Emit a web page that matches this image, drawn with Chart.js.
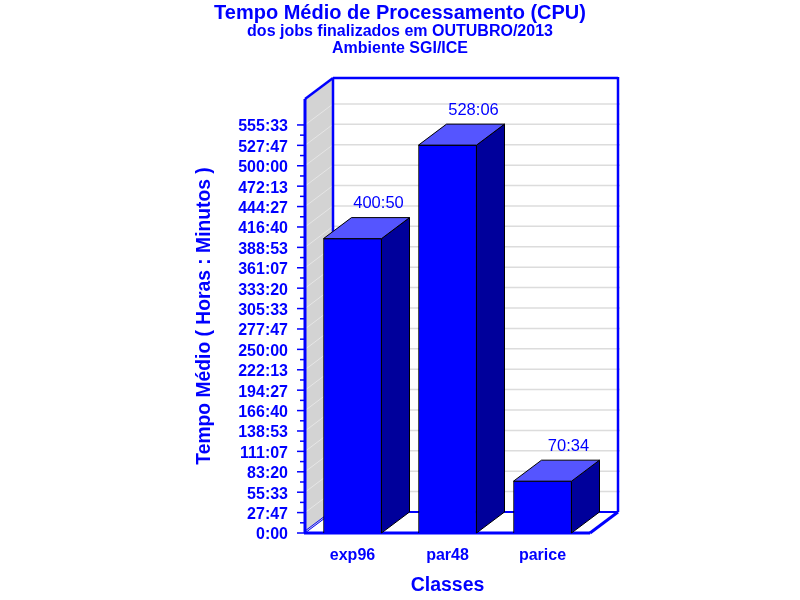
<!DOCTYPE html>
<html>
<head>
<meta charset="utf-8">
<title>Tempo Médio de Processamento</title>
<script src="https://cdn.jsdelivr.net/npm/chart.js@4"></script>
<style>
  html, body { margin: 0; padding: 0; background: #fff; }
  canvas { display: block; }
</style>
</head>
<body>
<canvas id="grafico" width="800" height="600"></canvas>
<script>
const classes = ['exp96', 'par48', 'parice'];
// tempos em minutos (400:50, 528:06, 70:34)
const tempos = [24050, 31686, 4234];
const rotulosY = ['0:00', '27:47', '55:33', '83:20', '111:07', '138:53', '166:40', '194:27',
  '222:13', '250:00', '277:47', '305:33', '333:20', '361:07', '388:53', '416:40',
  '444:27', '472:13', '500:00', '527:47', '555:33'];
const maxY = 35460;

const AZUL = '#0000ff';
const DX = 28, DY = -21;
const fonte = 'Arial, "Liberation Sans", sans-serif';

function paraMinutos(r) {
  const p = r.split(':');
  return parseInt(p[0]) * 60 + parseInt(p[1]);
}
function paraHoras(m) {
  const min = m % 60;
  return Math.floor(m / 60) + ':' + (min < 10 ? '0' : '') + min;
}
const valoresY = rotulosY.map(paraMinutos);

function poligono(ctx, pts, cor, borda) {
  ctx.beginPath();
  pts.forEach((p, i) => i ? ctx.lineTo(p[0], p[1]) : ctx.moveTo(p[0], p[1]));
  ctx.closePath();
  ctx.fillStyle = cor;
  ctx.fill();
  if (borda) {
    ctx.strokeStyle = borda;
    ctx.lineWidth = 1;
    ctx.stroke();
  }
}
function linha(ctx, x1, y1, x2, y2, cor, w) {
  ctx.beginPath();
  ctx.moveTo(x1, y1);
  ctx.lineTo(x2, y2);
  ctx.strokeStyle = cor;
  ctx.lineWidth = w;
  ctx.stroke();
}

// caixa 3D: parede, piso, grades e marcas do eixo, tudo a partir das escalas
const caixa3d = {
  id: 'caixa3d',
  beforeDatasetsDraw(chart) {
    const {ctx, chartArea: a, scales: {y}} = chart;
    ctx.save();
    poligono(ctx, [[a.left, a.bottom], [a.left + DX, a.bottom + DY], [a.left + DX, a.top + DY], [a.left, a.top]], '#d3d3d3');
    valoresY.forEach((v, i) => {
      const py = y.getPixelForValue(v);
      if (i > 0) {
        linha(ctx, a.left, py, a.left + DX, py + DY, '#e6e6e6', 1);
        linha(ctx, a.left + DX, py + DY, a.right + DX + 2, py + DY, '#dcdcdc', 1.5);
      }
      linha(ctx, a.left - 8, py, a.left, py, AZUL, 1.5);
      if (i < valoresY.length - 1) {
        const meio = y.getPixelForValue((v + valoresY[i + 1]) / 2);
        linha(ctx, a.left - 5, meio, a.left, meio, AZUL, 1.5);
      }
    });
    linha(ctx, a.left, a.bottom - 2, a.left + DX, a.bottom + DY - 2, AZUL, 1);
    linha(ctx, a.left, a.bottom, a.left + DX, a.bottom + DY, AZUL, 1);
    linha(ctx, a.left + DX, a.bottom + DY, a.right + DX, a.bottom + DY, AZUL, 2);
    linha(ctx, a.right, a.bottom, a.right + DX, a.bottom + DY, AZUL, 3);
    linha(ctx, a.left + DX, a.top + DY, a.left + DX, a.bottom + DY, AZUL, 2.5);
    linha(ctx, a.right + DX, a.top + DY - 1, a.right + DX, a.bottom + DY, AZUL, 2.5);
    linha(ctx, a.left + DX, a.top + DY, a.right + DX, a.top + DY, AZUL, 2.5);
    linha(ctx, a.left, a.top, a.left + DX, a.top + DY, AZUL, 2.5);
    linha(ctx, a.left, a.top, a.left, a.bottom, AZUL, 3);
    linha(ctx, a.left - 1, a.bottom, a.right, a.bottom, AZUL, 3);
    ctx.restore();
  },
  afterDatasetsDraw(chart) {
    const {ctx} = chart;
    const meta = chart.getDatasetMeta(0);
    ctx.save();
    meta.data.forEach((bar, i) => {
      const e = bar.getProps(['x', 'y', 'base', 'width'], true);
      const l = e.x - e.width / 2, r = e.x + e.width / 2;
      poligono(ctx, [[r, e.y], [r + DX, e.y + DY], [r + DX, e.base + DY], [r, e.base]], '#00009b', '#000');
      poligono(ctx, [[l, e.y], [l + DX, e.y + DY], [r + DX, e.y + DY], [r, e.y]], '#5555ff', '#000');
      ctx.fillStyle = AZUL;
      ctx.font = '16.5px ' + fonte;
      ctx.textAlign = 'center';
      ctx.textBaseline = 'middle';
      ctx.fillText(paraHoras(tempos[i]), e.x + DX - 2, e.y - 35);
    });
    ctx.restore();
  }
};

new Chart(document.getElementById('grafico'), {
  type: 'bar',
  data: {
    labels: classes,
    datasets: [{
      data: tempos,
      backgroundColor: AZUL,
      borderColor: '#000',
      borderWidth: 1,
      barThickness: 58
    }]
  },
  options: {
    responsive: false,
    animation: false,
    devicePixelRatio: 1,
    layout: { padding: { left: 192, right: 192, top: 0, bottom: 0 } },
    plugins: {
      legend: { display: false },
      tooltip: { enabled: false },
      title: {
        display: true,
        text: 'Tempo Médio de Processamento (CPU)',
        color: AZUL,
        font: { family: fonte, size: 20, weight: 'bold', lineHeight: 1 },
        padding: { top: 3, bottom: 0 }
      },
      subtitle: {
        display: true,
        text: ['dos jobs finalizados em OUTUBRO/2013', 'Ambiente SGI/ICE'],
        color: AZUL,
        font: { family: fonte, size: 16, weight: 'bold', lineHeight: 1.06 },
        padding: { top: 0, bottom: 42 }
      }
    },
    scales: {
      x: {
        grid: { display: false },
        border: { display: false },
        ticks: { color: AZUL, font: { family: fonte, size: 16, weight: 'bold' }, padding: 5 },
        title: {
          display: true,
          text: 'Classes',
          color: AZUL,
          font: { family: fonte, size: 19.5, weight: 'bold' },
          padding: { top: 0, bottom: 3 }
        },
        afterFit(s) { s.height = 67; }
      },
      y: {
        min: 0,
        max: maxY,
        grid: { display: false },
        border: { display: false },
        afterBuildTicks(s) { s.ticks = valoresY.map(v => ({value: v})); },
        ticks: {
          autoSkip: false,
          color: AZUL,
          font: { family: fonte, size: 16, weight: 'bold' },
          padding: 9,
          labelOffset: 2,
          callback(v) { return paraHoras(v); }
        },
        title: {
          display: true,
          text: 'Tempo Médio ( Horas : Minutos )',
          color: AZUL,
          font: { family: fonte, size: 19.3, weight: 'bold' },
          padding: { top: 1, bottom: 0 }
        },
        afterFit(s) { s.width = 113; }
      },
      // so reserva o espaco da profundidade a direita
      folga: {
        position: 'right',
        display: true,
        grid: { display: false },
        border: { display: false },
        ticks: { display: false },
        afterFit(s) { s.width = 18; }
      }
    }
  },
  plugins: [caixa3d]
});
</script>
</body>
</html>
